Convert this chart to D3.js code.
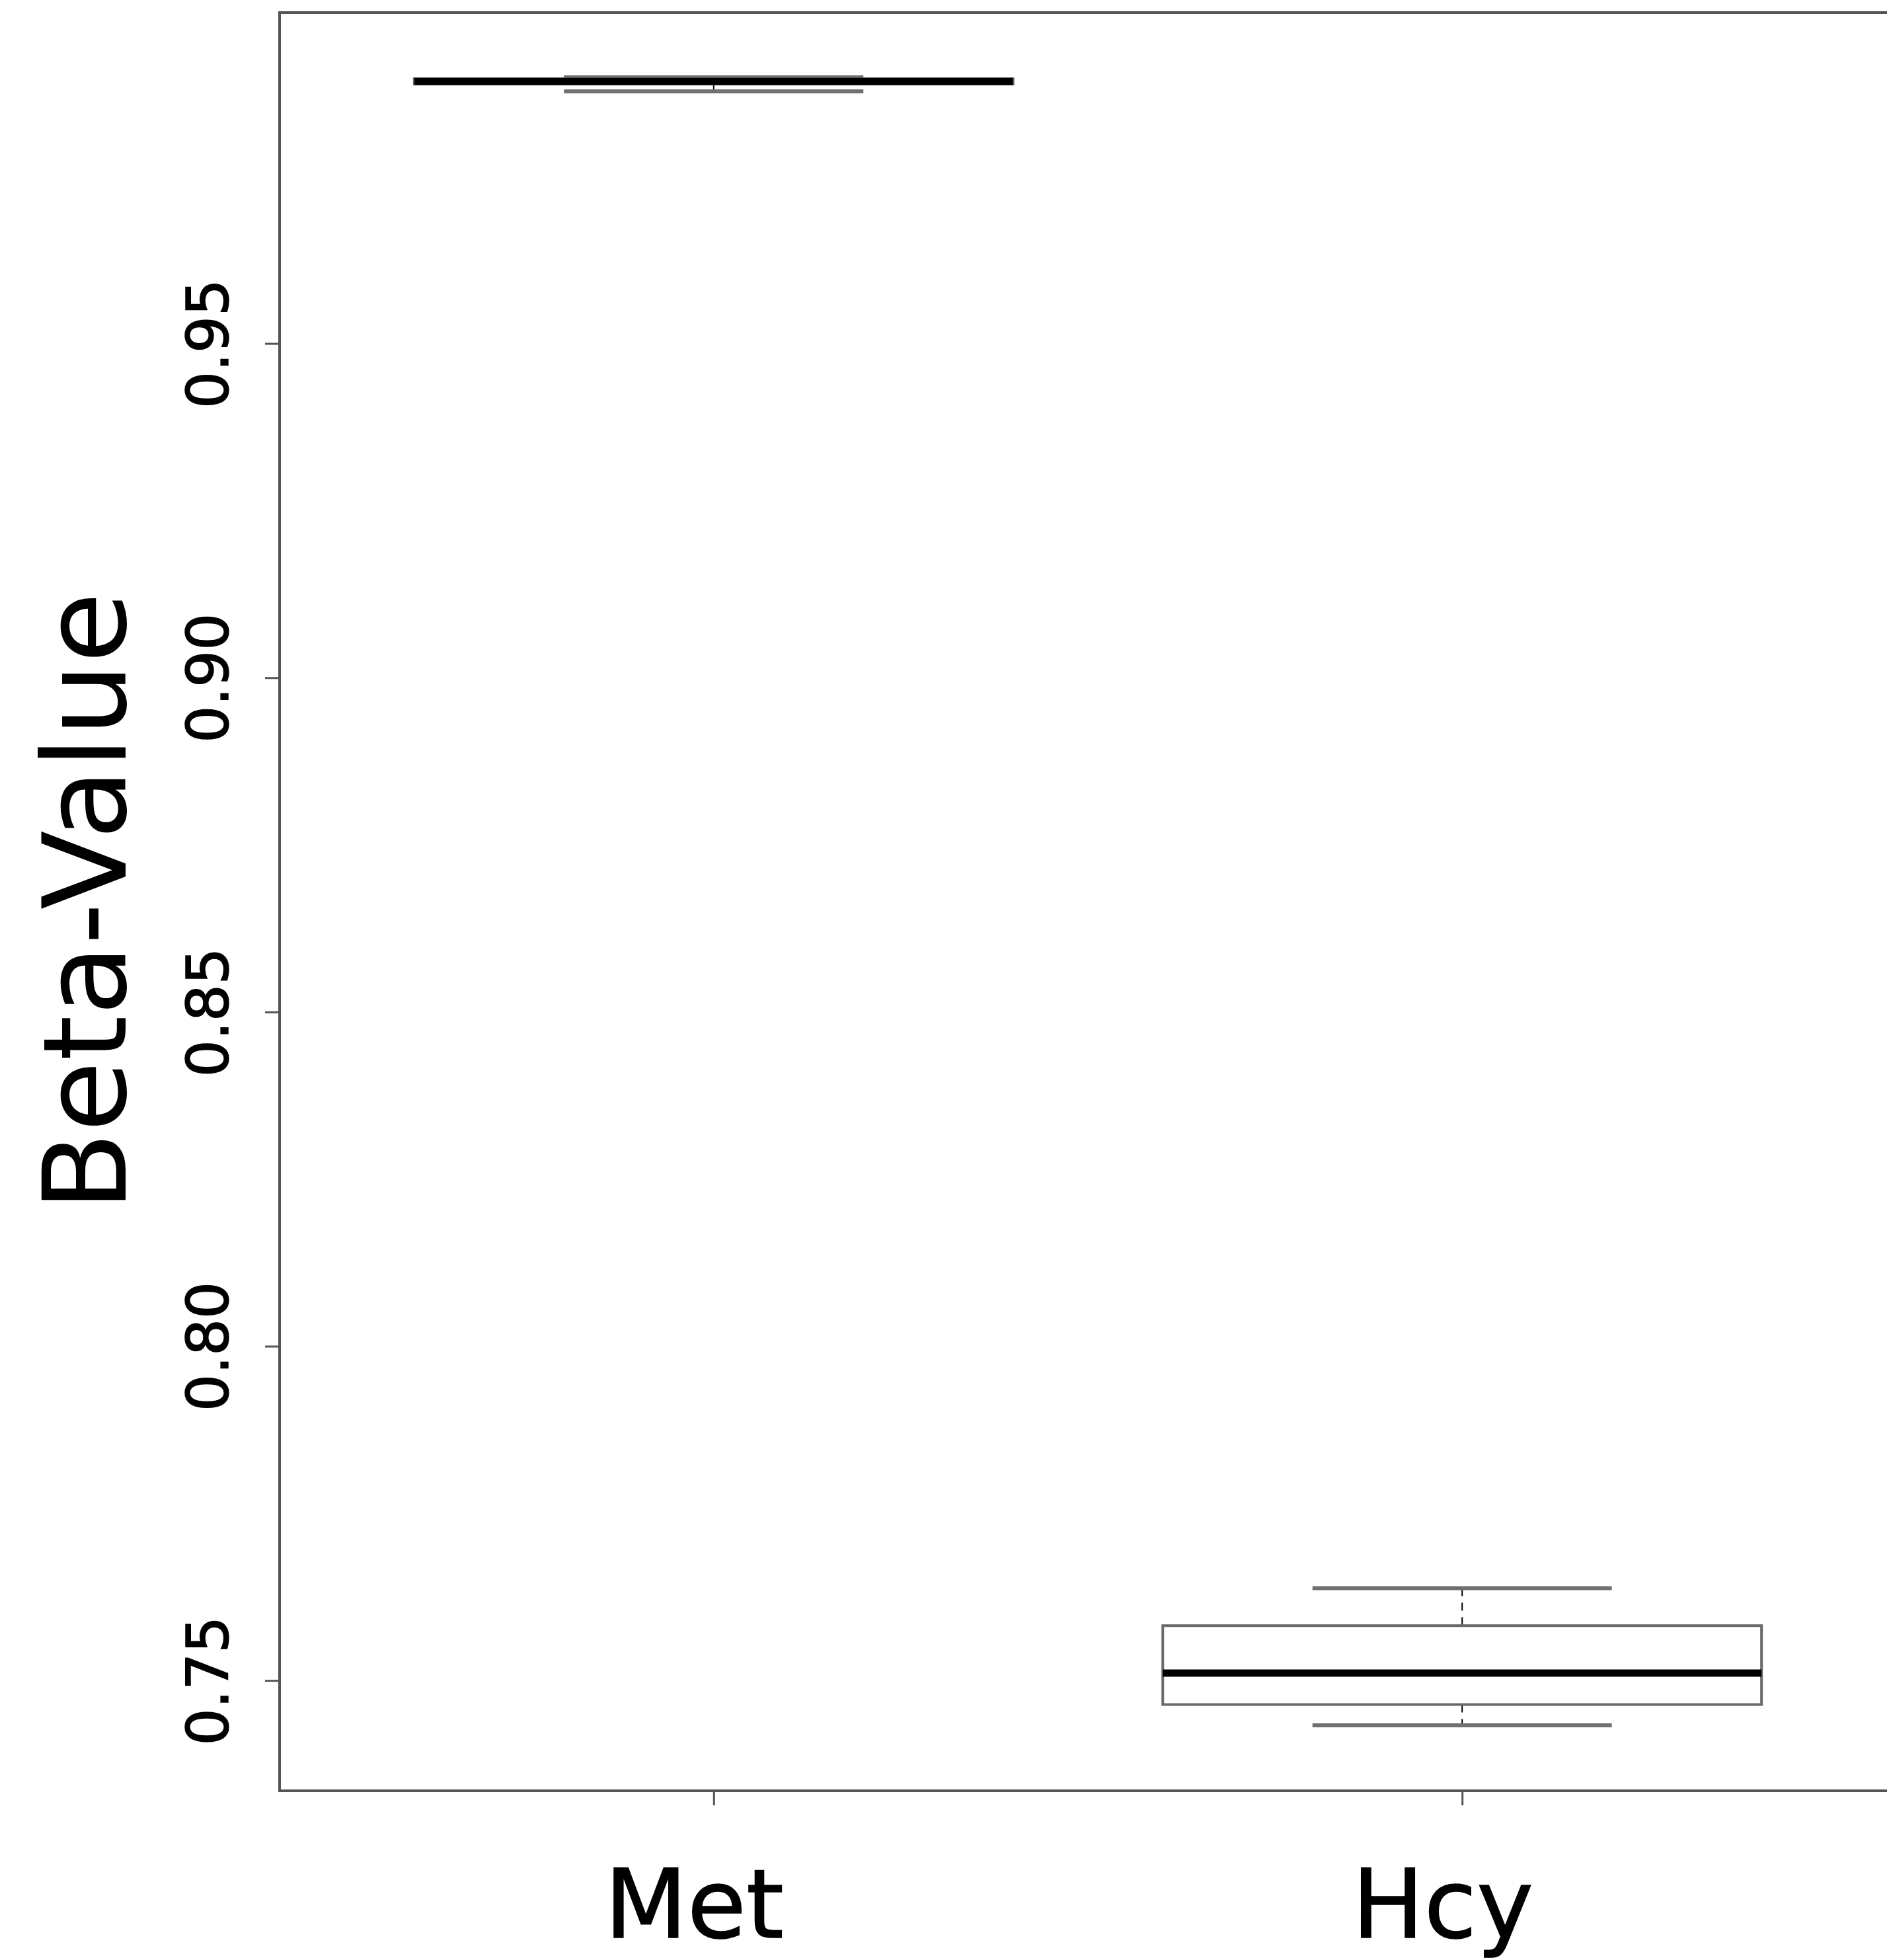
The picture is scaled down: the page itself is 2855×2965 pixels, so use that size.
<!DOCTYPE html>
<html>
<head>
<meta charset="utf-8">
<script src="https://cdn.jsdelivr.net/npm/d3@7"></script>
<style>
  body { margin: 0; background: #fff; }
  svg { display: block; }
  svg text { font-family: "DejaVu Sans", Verdana, sans-serif; }
</style>
</head>
<body>
<div id="chart"></div>
<script>
// groups and five-number summaries
var groups = ["Met", "Hcy"];
var lowWhisker = [0.9877, 0.7433];
var q1 = [0.9888, 0.7464];
var median = [0.9892, 0.7511];
var q3 = [0.9896, 0.7582];
var highWhisker = [0.9898, 0.7638];
var yTicks = [0.75, 0.80, 0.85, 0.90, 0.95];

var data = groups.map(function(g, i) {
	return { name: g, pos: i + 1, lo: lowWhisker[i], q1: q1[i], med: median[i], q3: q3[i], hi: highWhisker[i] };
});

var width = 2855, height = 2965;
var plotL = 423, plotT = 19, plotB = 2709, plotR = 2869;

var svg = d3.select("#chart").append("svg")
	.attr("width", width)
	.attr("height", height);

var x = d3.scaleLinear()
	.domain([0.42, 2.58])
	.range([plotL, plotR]);

var y = d3.scaleLinear()
	.domain([0.7335, 0.9995])
	.range([plotB, plotT]);

var boxW = x(1.4) - x(1);     // boxwex 0.8 -> half width
var stapleW = boxW / 2;

// y axis
var yAxis = svg.append("g")
	.attr("transform", `translate(${plotL},0)`)
	.call(d3.axisLeft(y).tickValues(yTicks).tickSize(22).tickFormat(d3.format(".2f")));
yAxis.attr("font-family", null).attr("font-size", null);
yAxis.select(".domain").remove();
yAxis.selectAll(".tick line").attr("stroke", "#555").attr("stroke-width", 3);
yAxis.selectAll(".tick text")
	.attr("x", null).attr("dy", null)
	.attr("text-anchor", "middle")
	.attr("transform", "translate(-78,0) rotate(-90)")
	.attr("fill", "#000")
	.attr("stroke", "#000").attr("stroke-width", 1.5)
	.style("font-size", "88px");

// x axis
var xAxis = svg.append("g")
	.attr("transform", `translate(0,${plotB})`)
	.call(d3.axisBottom(x).tickValues(data.map(d => d.pos)).tickSize(22).tickFormat((d, i) => groups[i]));
xAxis.attr("font-family", null).attr("font-size", null);
xAxis.select(".domain").remove();
xAxis.selectAll(".tick line").attr("stroke", "#555").attr("stroke-width", 3);
xAxis.selectAll(".tick text")
	.attr("y", 222).attr("dy", null).attr("x", -30)
	.attr("fill", "#000")
	.attr("stroke", "#000").attr("stroke-width", 1.5)
	.style("font-size", "145px");

// boxes
var box = svg.selectAll("g.box")
	.data(data)
	.enter()
	.append("g")
	.attr("class", "box");

// dashed whiskers
box.append("line")
	.attr("x1", d => x(d.pos)).attr("x2", d => x(d.pos))
	.attr("y1", d => y(d.hi)).attr("y2", d => y(d.q3))
	.attr("stroke", "#000").attr("stroke-width", 2).attr("stroke-dasharray", "12,10");
box.append("line")
	.attr("x1", d => x(d.pos)).attr("x2", d => x(d.pos))
	.attr("y1", d => y(d.q1)).attr("y2", d => y(d.lo))
	.attr("stroke", "#000").attr("stroke-width", 2).attr("stroke-dasharray", "12,10");

// staples
box.append("line")
	.attr("x1", d => x(d.pos) - stapleW).attr("x2", d => x(d.pos) + stapleW)
	.attr("y1", d => y(d.hi)).attr("y2", d => y(d.hi))
	.attr("stroke", "#707070").attr("stroke-width", 6);
box.append("line")
	.attr("x1", d => x(d.pos) - stapleW).attr("x2", d => x(d.pos) + stapleW)
	.attr("y1", d => y(d.lo)).attr("y2", d => y(d.lo))
	.attr("stroke", "#707070").attr("stroke-width", 6);

box.append("rect")
	.attr("x", d => x(d.pos) - boxW)
	.attr("y", d => y(d.q3))
	.attr("width", boxW * 2)
	.attr("height", d => y(d.q1) - y(d.q3))
	.attr("fill", "none")
	.attr("stroke", "#6a6a6a")
	.attr("stroke-width", 4);

box.append("line")
	.attr("x1", d => x(d.pos) - boxW).attr("x2", d => x(d.pos) + boxW)
	.attr("y1", d => y(d.med)).attr("y2", d => y(d.med))
	.attr("stroke", "#000").attr("stroke-width", 11);

// plot frame
svg.append("rect")
	.attr("x", plotL).attr("y", plotT)
	.attr("width", plotR - plotL).attr("height", plotB - plotT)
	.attr("fill", "none")
	.attr("stroke", "#555")
	.attr("stroke-width", 4);

// y title
svg.append("text")
	.attr("transform", `translate(190,${(plotT + plotB) / 2}) rotate(-90)`)
	.attr("text-anchor", "middle")
	.style("font-size", "175px")
	.text("Beta-Value");
</script>
</body>
</html>
